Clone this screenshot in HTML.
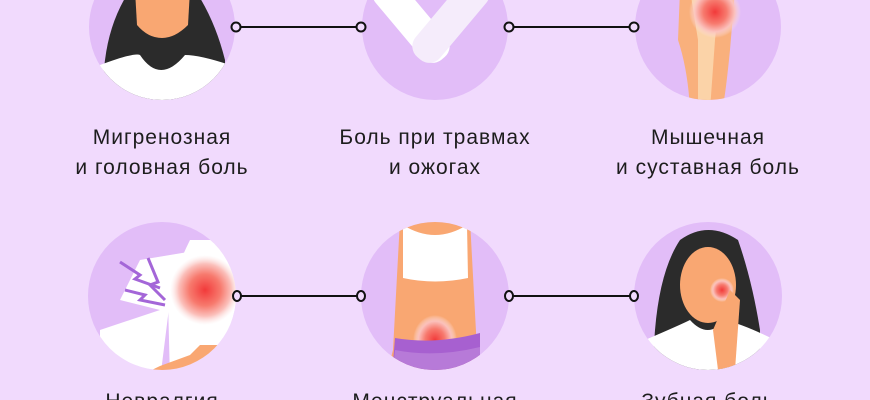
<!DOCTYPE html>
<html style="width:870px;height:400px;overflow:hidden"><head><meta charset="utf-8"><style>
html,body{margin:0;padding:0}
body{width:870px;height:400px;background:#f1dafd;position:relative;overflow:hidden;font-family:"Liberation Sans","DejaVu Sans",sans-serif}
.t{position:absolute;width:300px;text-align:center;font-size:21px;letter-spacing:1px;line-height:30px;color:#1d1d1d}
.b{height:5px;overflow:hidden}
</style></head><body>
<svg width="870" height="400" style="position:absolute;left:0;top:0">
<defs>
<radialGradient id="pain"><stop offset="0" stop-color="#f23a3a"/><stop offset="0.45" stop-color="#f77a6e"/><stop offset="0.75" stop-color="#fbc0bb"/><stop offset="1" stop-color="#fbe3e3" stop-opacity="0"/></radialGradient>
<clipPath id="c1"><circle cx="162" cy="27" r="73"/></clipPath>
<clipPath id="c2"><circle cx="435" cy="27" r="73"/></clipPath>
<clipPath id="c3"><circle cx="708" cy="27" r="73"/></clipPath>
<clipPath id="c4"><ellipse cx="162" cy="296" rx="74" ry="74"/></clipPath>
<clipPath id="c5"><ellipse cx="435" cy="296" rx="74" ry="74"/></clipPath>
<clipPath id="c6"><ellipse cx="708" cy="296" rx="74" ry="74"/></clipPath>
</defs>
<g fill="#e2bdf8">
<circle cx="162" cy="27" r="73"/><circle cx="435" cy="27" r="73"/><circle cx="708" cy="27" r="73"/>
<circle cx="162" cy="296" r="74"/><circle cx="435" cy="296" r="74"/><circle cx="708" cy="296" r="74"/>
</g>
<g clip-path="url(#c1)">
<path d="M105 60 Q110 20 130 -10 L195 -10 Q215 20 225 60 L225 100 L100 100Z" fill="#2b2b2b"/>
<path d="M135 -10 L190 -10 L188 25 Q175 38 162 38 Q148 38 137 25Z" fill="#f9a772"/>
<path d="M100 65 Q135 52 140 55 Q160 85 185 55 Q200 55 230 65 L230 110 L95 110Z" fill="#fff"/>
</g>
<g clip-path="url(#c2)">
<rect x="395" y="-30" width="32" height="100" rx="14" fill="#fff" transform="rotate(-40 411 20)"/>
<rect x="435" y="-30" width="32" height="100" rx="14" fill="#f5ecfb" transform="rotate(40 451 20)"/>
</g>
<g clip-path="url(#c3)">
<path d="M680 -10 L735 -10 L730 50 Q725 100 722 110 L690 110 Q688 70 678 40Z" fill="#f9b07c"/>
<path d="M690 -10 L720 -10 L715 40 L710 110 L698 110 L698 40Z" fill="#fbd3a8"/>
<circle cx="715" cy="12" r="26" fill="url(#pain)"/>
</g>
<g clip-path="url(#c4)">
<path d="M190 240 L240 240 L240 380 L170 380 L168 300 Q175 270 190 240Z" fill="#fff"/>
<path d="M100 330 L160 310 L120 300 L140 260 L200 250 L170 300 L160 380 L100 380Z" fill="#fff"/>
<circle cx="205" cy="290" r="35" fill="url(#pain)"/>
<path d="M122 395 Q130 380 160 366 L190 355 L200 345 L220 345 L225 358 L205 370 L170 380 Q140 392 130 400Z" fill="#f9a772"/>
<path d="M148 258 L158 282 L150 285 L165 300" stroke="#a466d8" stroke-width="3" fill="none"/>
<path d="M120 262 L140 275 L135 279 L160 288" stroke="#a466d8" stroke-width="3" fill="none"/>
<path d="M125 290 L145 295 L140 300 L165 305" stroke="#a466d8" stroke-width="3" fill="none"/>
</g>
<g clip-path="url(#c5)">
<path d="M400 220 L470 220 L477 350 L490 400 L380 400 L393 350Z" fill="#f9a772"/>
<path d="M403 225 Q435 245 467 225 L468 278 Q435 285 403 278Z" fill="#fff"/>
<ellipse cx="435" cy="340" rx="22" ry="25" fill="url(#pain)"/>
<path d="M395 338 Q435 345 480 333 L480 400 L390 400Z" fill="#a760d0"/>
<path d="M395 350 Q435 358 480 347 L480 400 L390 400Z" fill="#b77ad8"/>
</g>
<g clip-path="url(#c6)">
<path d="M655 330 Q660 270 680 240 Q708 220 738 240 Q752 280 760 330 L760 400 L650 400Z" fill="#2b2b2b"/>
<ellipse cx="708" cy="285" rx="28" ry="38" fill="#f9a772"/>
<circle cx="722" cy="290" r="12" fill="url(#pain)"/>
<path d="M645 340 Q680 325 690 320 Q708 340 725 320 Q745 325 775 340 L775 400 L645 400Z" fill="#fff"/>
<path d="M713 330 L730 290 L740 300 L735 370 L718 370Z" fill="#f9a772"/>
</g>
<g stroke="#111" stroke-width="2" fill="#f1dafd">
<line x1="236" y1="27" x2="361" y2="27"/><line x1="509" y1="27" x2="634" y2="27"/>
<line x1="237" y1="296" x2="361" y2="296"/><line x1="509" y1="296" x2="634" y2="296"/>
<circle cx="236" cy="27" r="4.5"/><circle cx="361" cy="27" r="4.5"/><circle cx="509" cy="27" r="4.5"/><circle cx="634" cy="27" r="4.5"/>
<ellipse cx="237" cy="296" rx="4" ry="5"/><ellipse cx="361" cy="296" rx="4" ry="5"/><ellipse cx="509" cy="296" rx="4" ry="5"/><ellipse cx="634" cy="296" rx="4" ry="5"/>
</g>
</svg>
<div class="t" style="left:12px;top:123px">Мигренозная<br>и головная боль</div>
<div class="t" style="left:285px;top:123px">Боль при травмах<br>и ожогах</div>
<div class="t" style="left:558px;top:123px">Мышечная<br>и суставная боль</div>
<div class="t" style="left:12px;top:387px;height:13px;overflow:hidden">Невралгия</div>
<div class="t" style="left:285px;top:387px;height:13px;overflow:hidden">Менструальная</div>
<div class="t" style="left:558px;top:387px;height:13px;overflow:hidden">Зубная боль</div>
</body></html>
